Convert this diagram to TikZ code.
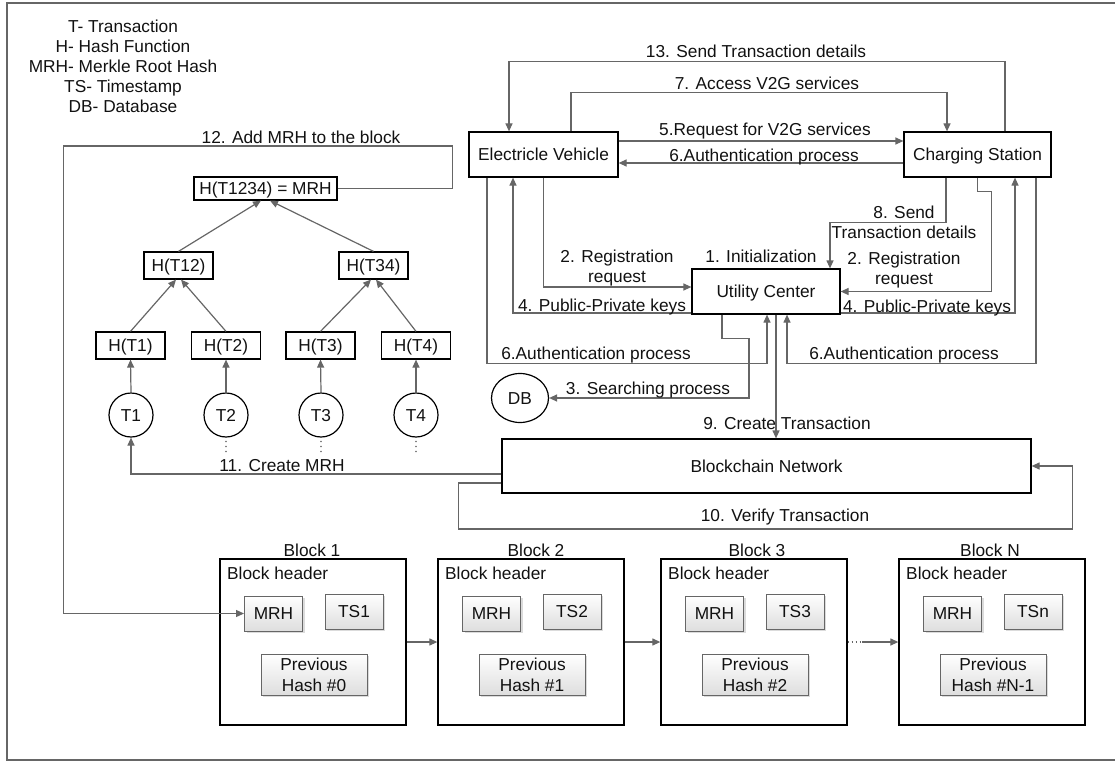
\documentclass[tikz,border=0pt]{standalone}
\usepackage{fontspec}
\setmainfont{Liberation Sans}
\usetikzlibrary{arrows.meta,shapes.geometric,shadows}
\definecolor{lg}{HTML}{666666}
\definecolor{tx}{HTML}{111111}
\newcommand\lblfont{\fontsize{17.3}{20}\selectfont}
\begin{document}
\begin{tikzpicture}[x=1pt,y=-1pt,
  conn/.style={draw=lg,line width=1.2pt},
  arr/.style={conn,-{Triangle[length=8pt,width=7pt]}},
  lbl/.style={font=\lblfont,text=tx,inner sep=0pt,text height=12.4pt,text depth=0pt},
  mlbl/.style={font=\lblfont,text=tx,inner sep=0pt,align=center,anchor=north},
  bx/.style={draw=black,line width=1.2pt,fill=white,inner sep=0pt,font=\lblfont,text=tx,text height=12.4pt,text depth=0pt},
  hb/.style={bx,minimum width=69pt,minimum height=27pt},
  tc/.style={circle,draw=black,line width=1.2pt,minimum size=44pt,inner sep=0pt,font=\lblfont,text=tx,text height=12.4pt,text depth=0pt},
  blk/.style={draw=black,line width=1.3pt,minimum width=186pt,minimum height=166pt,inner sep=0pt},
  sb/.style={draw=lg,line width=1pt,top color=white,bottom color=black!13,drop shadow={shadow xshift=2pt,shadow yshift=-2pt,fill=black!28},inner sep=0pt,font=\lblfont,text=tx}
]
\useasboundingbox (0,0) rectangle (1115,762);
% outer frame
\draw[draw=lg,line width=1.4pt] (1115,3) -- (7,3) -- (7,760) -- (1115,760);

% legend
\node[mlbl] (legend) at (123,19.8) {T- Transaction\\H- Hash Function\\MRH- Merkle Root Hash\\TS- Timestamp\\DB- Database};

% Merkle tree
\node[bx,minimum width=143pt,minimum height=23pt] (root) at (265.5,188.5) {H(T1234) = MRH};
\node[hb] (h12) at (178.5,265.5) {H(T12)};
\node[hb] (h34) at (373.5,265.5) {H(T34)};
\node[hb] (h1) at (130.5,345.5) {H(T1)};
\node[hb] (h2) at (226,345.5) {H(T2)};
\node[hb] (h3) at (320.5,345.5) {H(T3)};
\node[hb] (h4) at (416,345.5) {H(T4)};
\node[tc] (t1) at (131,415) {T1};
\node[tc] (t2) at (226,415) {T2};
\node[tc] (t3) at (321,415) {T3};
\node[tc] (t4) at (416,415) {T4};
\foreach \x in {226,321,416}{
  \foreach \y in {441.5,446.5,451.5} \fill[lg] (\x,\y) circle (0.9pt);
}
\draw[arr] (h12.north) -- ([xshift=-4.5pt]root.south);
\draw[arr] (h34.north) -- ([xshift=4.5pt]root.south);
\draw[arr] (h1.north) -- ([xshift=-2.5pt]h12.south);
\draw[arr] (h2.north) -- ([xshift=2.5pt]h12.south);
\draw[arr] (h3.north) -- ([xshift=-2.5pt]h34.south);
\draw[arr] (h4.north) -- ([xshift=2.5pt]h34.south);
\draw[arr] (t1.north) -- (h1.south);
\draw[arr] (t2.north) -- (h2.south);
\draw[arr] (t3.north) -- (h3.south);
\draw[arr] (t4.north) -- (h4.south);

% main entities
\node[bx,minimum width=149pt,minimum height=45pt] (ev) at (543.5,154.5) {Electricle Vehicle};
\node[bx,minimum width=147pt,minimum height=45pt] (cs) at (977.5,154.5) {Charging Station};
\node[bx,minimum width=148pt,minimum height=45pt] (uc) at (766,291.5) {Utility Center};
\node[ellipse,draw=black,line width=1.2pt,minimum width=57pt,minimum height=49pt,inner sep=0pt,font=\lblfont,text=tx,text height=12.4pt,text depth=0pt] (db) at (520,398) {DB};
\node[bx,minimum width=529pt,minimum height=54pt] (bn) at (766.5,466) {Blockchain Network};

% blocks
\foreach \L/\n/\ts/\ph/\lx in {220/1/TS1/0/312, 438/2/TS2/1/536, 661/3/TS3/2/757, 899/N/TSn/N-1/990}{
  \node[blk] (b\n) at (\L+93,642) {};
  \node[lbl] (bl\n) at (\lx,550) {Block \n};
  \node[lbl,anchor=west] (bh\n) at (\L+7,573) {Block header};
  \node[sb,minimum width=58pt,minimum height=35pt,text height=12.4pt,text depth=0pt] (m\n) at (\L+53.5,613.5) {MRH};
  \node[sb,minimum width=58pt,minimum height=35pt,text height=12.4pt,text depth=0pt] (s\n) at (\L+134,611.5) {\ts};
  \node[sb,minimum width=106pt,minimum height=41pt,align=center,font=\fontsize{17.3}{21}\selectfont] (p\n) at (\L+94,674.5) {Previous\\Hash \#\ph};
}
\draw[arr] (b1.east) -- (b2.west);
\draw[arr] (b2.east) -- (b3.west);
\coordinate (dd) at (862,642);
\draw[conn,dash pattern=on 1.2pt off 2.8pt] (b3.east) -- (dd);
\draw[arr] (dd) -- (bN.west);

% connectors
\draw[arr] ([xshift=27.5pt]cs.north) -- ++(0,-70) -| ([xshift=-34.5pt]ev.north);
\draw[arr] ([xshift=27.5pt]ev.north) -- ++(0,-39) -| ([xshift=-30.5pt]cs.north);
\draw[arr] ([yshift=13.5pt]ev.east) -- ([yshift=13.5pt]cs.west);
\draw[arr] ([yshift=-8.5pt]cs.west) -- ([yshift=-8.5pt]ev.east);
\draw[arr] (ev.south) |- ([yshift=4.5pt]uc.west);
\draw[arr] ([yshift=-21.5pt]uc.west) -| ([xshift=-30.5pt]ev.south);
\draw[arr] ([xshift=-56.5pt]ev.south) -- ++(0,186) -| ([xshift=1pt]uc.south);
\draw[arr] ([xshift=-44pt]uc.south) -- ++(0,24) -- ++(27,0) |- (db.east);
\draw[arr] ([xshift=10pt]uc.south) -- ([xshift=10pt]uc.south |- bn.north);
\draw[arr] ([xshift=58.5pt]cs.south) -- ++(0,186) -| ([xshift=21pt]uc.south);
\draw[arr] ([yshift=-21.5pt]uc.east) -| ([xshift=37.5pt]cs.south);
\draw[arr] (cs.south) -- ++(0,14) -- ++(14,0) |- (uc.east);
\draw[arr] ([xshift=-31.5pt]cs.south) -- ++(0,45) -| ([xshift=64pt]uc.north);
\draw[arr] ([yshift=-8pt]bn.west) -| (t1.south);
\draw[arr] ([yshift=-17pt]bn.west) -- ++(-43,0) -- ++(0,46) -- ++(614,0) |- (bn.east);
\draw[arr] (root.east) -- ++(115,0) -- ++(0,-42.5) -- ++(-389,0) |- (m1.west);

% labels
\node[lbl] (l13) at (756,51) {13. Send Transaction details};
\node[lbl] (l7) at (767,83) {7. Access V2G services};
\node[lbl] (l5) at (765,129) {5.Request for V2G services};
\node[lbl] (l6a) at (764,155) {6.Authentication process};
\node[mlbl] (l2a) at (617,249.8) {2. Registration\\request};
\node[lbl] (l4a) at (602,305) {4. Public-Private keys};
\node[lbl] (l1) at (761,256) {1. Initialization};
\node[mlbl] (l2b) at (904,251.8) {2. Registration\\request};
\node[lbl] (l4b) at (927,306) {4. Public-Private keys};
\node[mlbl] (l8) at (904,205.8) {8. Send\\Transaction details};
\node[lbl] (l6b) at (596,353) {6.Authentication process};
\node[lbl] (l6c) at (904,353) {6.Authentication process};
\node[lbl] (l3) at (648,388) {3. Searching process};
\node[lbl] (l9) at (787,423) {9. Create Transaction};
\node[lbl] (l11) at (282,465) {11. Create MRH};
\node[lbl] (l10) at (785,515) {10. Verify Transaction};
\node[lbl] (l12) at (301,137) {12. Add MRH to the block};
\end{tikzpicture}
\end{document}
